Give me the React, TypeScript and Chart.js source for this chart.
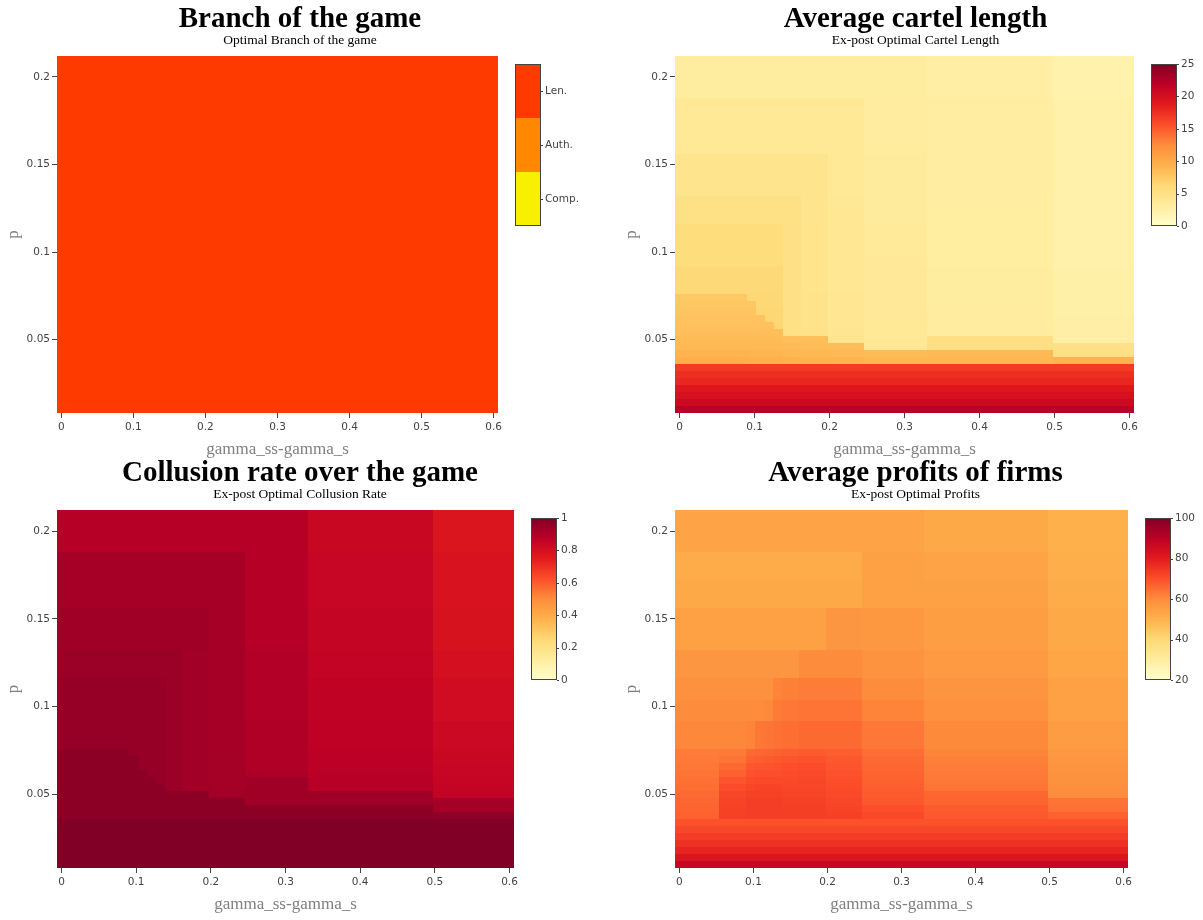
import React, { useEffect, useRef } from "react";
import { Chart, registerables } from "chart.js";

Chart.register(...registerables);

const SERIF = '"Liberation Serif", "Times New Roman", Times, serif';
const SANS = '"DejaVu Sans", Verdana, sans-serif';
const TICK_COLOR = "#444444";
const AXIS_TITLE_COLOR = "#808080";

// ---------------- data ----------------
const xValues = [
  0, 0.012, 0.024, 0.036, 0.048, 0.06, 0.072, 0.084, 0.096, 0.108, 0.12, 0.132, 0.144, 0.156, 0.168,
  0.18, 0.192, 0.204, 0.216, 0.228, 0.24, 0.252, 0.264, 0.276, 0.288, 0.3, 0.312, 0.324, 0.336, 0.348,
  0.36, 0.372, 0.384, 0.396, 0.408, 0.42, 0.432, 0.444, 0.456, 0.468, 0.48, 0.492, 0.504, 0.516, 0.528,
  0.54, 0.552, 0.564, 0.576, 0.588, 0.6,
];
const yValues = [
  0.01, 0.014, 0.018, 0.022, 0.026, 0.03, 0.034, 0.038, 0.042, 0.046, 0.05, 0.054, 0.058, 0.062, 0.066,
  0.07, 0.074, 0.078, 0.082, 0.086, 0.09, 0.094, 0.098, 0.102, 0.106, 0.11, 0.114, 0.118, 0.122, 0.126,
  0.13, 0.134, 0.138, 0.142, 0.146, 0.15, 0.154, 0.158, 0.162, 0.166, 0.17, 0.174, 0.178, 0.182, 0.186,
  0.19, 0.194, 0.198, 0.202, 0.206, 0.21,
];
// number of x columns in each column group (gamma bands)
const colGroupWidths = [5, 3, 1, 1, 1, 1, 2, 3, 4, 7, 14, 9];
const xTicks = [0, 0.1, 0.2, 0.3, 0.4, 0.5, 0.6];
const yTicks = [0.05, 0.1, 0.15, 0.2];

// rows listed from top (p = 0.21) to bottom (p = 0.01): [row count, value per column group | single value]
type RowGroup = [number, number | number[]];

const branchRows: RowGroup[] = [[51, 2]];
const branchLevels = ["Comp.", "Auth.", "Len."];
const branchColors = ["rgb(248,240,0)", "rgb(255,136,0)", "rgb(254,58,0)"];

const cartelRows: RowGroup[] = [
  [6, [3.2, 3.2, 3.2, 3.2, 3.2, 3.2, 3.2, 3.2, 3.2, 3.2, 2.9, 2.3]],
  [8, [3.9, 3.9, 3.9, 3.9, 3.9, 3.9, 3.9, 3.9, 3.9, 3.3, 3.0, 2.4]],
  [6, [4.5, 4.5, 4.5, 4.5, 4.5, 4.5, 4.5, 4.5, 3.9, 3.4, 3.0, 2.5]],
  [4, [5.1, 5.1, 5.1, 5.1, 5.1, 5.1, 5.1, 4.5, 4.0, 3.5, 3.1, 2.5]],
  [6, [5.7, 5.7, 5.7, 5.7, 5.7, 5.7, 5.0, 4.6, 4.1, 3.6, 3.1, 2.5]],
  [4, [6.2, 6.2, 6.2, 6.2, 6.2, 6.2, 5.0, 4.6, 4.1, 3.7, 3.2, 2.6]],
  [1, [7.6, 7.6, 6.3, 6.3, 6.3, 6.3, 5.0, 4.7, 4.2, 3.7, 3.2, 2.6]],
  [1, [7.7, 7.7, 7.7, 6.3, 6.3, 6.3, 5.0, 4.7, 4.2, 3.7, 3.2, 2.6]],
  [1, [7.8, 7.8, 7.8, 6.4, 6.4, 6.4, 5.0, 4.7, 4.2, 3.7, 3.2, 2.6]],
  [1, [8.0, 8.0, 8.0, 8.0, 6.4, 6.4, 5.0, 4.7, 4.2, 3.7, 3.3, 2.7]],
  [1, [8.2, 8.2, 8.2, 8.2, 8.2, 6.4, 5.0, 4.7, 4.2, 3.7, 3.3, 2.7]],
  [1, [8.4, 8.4, 8.4, 8.4, 8.4, 8.4, 5.1, 4.8, 4.3, 3.8, 3.3, 2.7]],
  [1, [8.6, 8.6, 8.6, 8.6, 8.6, 8.6, 8.4, 8.3, 4.4, 3.8, 5.3, 2.8]],
  [1, [8.8, 8.8, 8.8, 8.8, 8.8, 8.8, 8.7, 8.6, 8.5, 3.9, 5.3, 5.0]],
  [1, [9.2, 9.2, 9.1, 9.1, 9.1, 9.1, 9.0, 8.9, 8.8, 8.6, 8.8, 5.0]],
  [1, [9.6, 9.6, 9.5, 9.5, 9.5, 9.5, 9.4, 9.3, 9.2, 9.0, 9.0, 9.2]],
  [1, 16.8],
  [1, 17.5],
  [1, 18.0],
  [1, 19.1],
  [1, 19.8],
  [1, 20.7],
  [1, 22.1],
];
const cartelTicks = [0, 5, 10, 15, 20, 25];

const collusionRows: RowGroup[] = [
  [6, [0.89, 0.89, 0.89, 0.89, 0.89, 0.89, 0.89, 0.89, 0.89, 0.89, 0.84, 0.775]],
  [8, [0.92, 0.92, 0.92, 0.92, 0.92, 0.92, 0.92, 0.92, 0.92, 0.89, 0.845, 0.785]],
  [6, [0.935, 0.935, 0.935, 0.935, 0.935, 0.935, 0.935, 0.935, 0.92, 0.89, 0.85, 0.79]],
  [4, [0.945, 0.945, 0.945, 0.945, 0.945, 0.945, 0.945, 0.93, 0.92, 0.895, 0.855, 0.8]],
  [6, [0.955, 0.955, 0.955, 0.955, 0.955, 0.955, 0.945, 0.93, 0.92, 0.895, 0.865, 0.815]],
  [4, [0.955, 0.955, 0.955, 0.955, 0.955, 0.955, 0.945, 0.93, 0.92, 0.9, 0.87, 0.83]],
  [1, [0.975, 0.975, 0.955, 0.955, 0.955, 0.955, 0.945, 0.93, 0.925, 0.9, 0.875, 0.84]],
  [1, [0.975, 0.975, 0.975, 0.955, 0.955, 0.955, 0.945, 0.93, 0.925, 0.9, 0.875, 0.84]],
  [1, [0.975, 0.975, 0.975, 0.955, 0.955, 0.955, 0.945, 0.93, 0.925, 0.9, 0.875, 0.845]],
  [1, [0.975, 0.975, 0.975, 0.975, 0.955, 0.955, 0.945, 0.93, 0.925, 0.905, 0.88, 0.845]],
  [1, [0.975, 0.975, 0.975, 0.975, 0.975, 0.955, 0.945, 0.93, 0.925, 0.935, 0.885, 0.85]],
  [1, [0.975, 0.975, 0.975, 0.975, 0.975, 0.975, 0.945, 0.93, 0.925, 0.935, 0.885, 0.855]],
  [1, [0.975, 0.975, 0.975, 0.975, 0.975, 0.975, 0.975, 0.975, 0.93, 0.935, 0.935, 0.86]],
  [1, [0.975, 0.975, 0.975, 0.975, 0.975, 0.975, 0.975, 0.975, 0.975, 0.935, 0.935, 0.925]],
  [1, [0.975, 0.975, 0.975, 0.975, 0.975, 0.975, 0.975, 0.975, 0.975, 0.975, 0.975, 0.925]],
  [1, [0.975, 0.975, 0.975, 0.975, 0.975, 0.975, 0.975, 0.975, 0.975, 0.975, 0.975, 0.97]],
  [7, 1.0],
];
const collusionTicks = [0, 0.2, 0.4, 0.6, 0.8, 1];

const profitRows: RowGroup[] = [
  [6, [54, 54, 54, 54, 54, 54, 54, 54, 54, 54, 52.5, 50.5]],
  [4, [52, 52, 52, 52, 52, 52, 52, 52, 52, 54.5, 54, 51]],
  [4, [52.5, 52.5, 52.5, 52.5, 52.5, 52.5, 52.5, 52.5, 52.5, 55, 54.5, 51.5]],
  [6, [55, 55, 55, 55, 55, 55, 55, 55, 57.5, 57, 55.5, 52.5]],
  [4, [57.5, 57.5, 57.5, 57.5, 57.5, 57.5, 57.5, 60, 60, 58.5, 56.5, 53.5]],
  [3, [59, 59, 59, 59, 59, 61.5, 62, 62.5, 62.5, 60, 58, 54.5]],
  [3, [60, 60, 60, 60, 60.5, 63, 63.5, 64, 64, 61.5, 59, 55]],
  [4, [61, 61, 61.5, 63.5, 64, 64.5, 65, 65.5, 65.5, 63.5, 60.5, 56]],
  [1, [62.5, 63, 65.5, 66, 66.5, 67, 67.5, 68, 67.5, 65, 61.5, 57]],
  [1, [63, 64, 67, 67.5, 68, 68.5, 69, 69.5, 68.5, 65.5, 62, 57.5]],
  [1, [63.5, 65.5, 68.5, 69, 69, 69.5, 70, 70.5, 69, 66, 62.5, 58]],
  [1, [64, 67, 69.5, 70, 70, 70, 70.5, 71, 69.5, 66.5, 63, 58.5]],
  [1, [64.5, 69, 70.5, 71, 71, 71, 71, 71.5, 70, 67, 63.5, 59]],
  [1, [65, 70.5, 71.5, 72, 72, 72, 71.5, 71.5, 70.5, 67.5, 64, 59.5]],
  [1, [65.5, 71.5, 72.5, 72.5, 72.5, 72.5, 72, 72, 71, 68, 66, 60]],
  [1, [66, 72, 73, 73, 73, 73, 72.5, 72.5, 71.5, 68.5, 66.5, 64]],
  [1, [66.5, 72.5, 73, 73, 73, 73, 73, 73, 72, 70, 68, 64.5]],
  [1, [67, 72.5, 73, 73, 73, 73, 73, 73, 72.5, 71, 68.5, 67]],
  [1, 69.5],
  [1, 71.5],
  [1, 73.5],
  [1, 75.5],
  [1, 78],
  [1, 82],
  [1, 87.5],
];
const profitTicks = [20, 40, 60, 80, 100];

// YlOrRd colour scale (low = light yellow, high = dark red)
const ylorrd: [number, number[]][] = [
  [0, [255, 255, 204]],
  [0.125, [255, 237, 160]],
  [0.25, [254, 217, 118]],
  [0.375, [254, 178, 76]],
  [0.5, [253, 141, 60]],
  [0.625, [252, 78, 42]],
  [0.75, [227, 26, 28]],
  [0.875, [189, 0, 38]],
  [1, [128, 0, 38]],
];

// ---------------- helpers ----------------
function scaleColor(v: number, min: number, max: number): string {
  let t = (v - min) / (max - min);
  t = Math.max(0, Math.min(1, t));
  for (let k = 1; k < ylorrd.length; k++) {
    const [t1, c1] = ylorrd[k];
    const [t0, c0] = ylorrd[k - 1];
    if (t <= t1) {
      const f = (t - t0) / (t1 - t0);
      const c = c0.map((a, i) => Math.round(a + (c1[i] - a) * f));
      return `rgb(${c[0]},${c[1]},${c[2]})`;
    }
  }
  const last = ylorrd[ylorrd.length - 1][1];
  return `rgb(${last[0]},${last[1]},${last[2]})`;
}

function edgesOf(vals: number[]): number[] {
  const n = vals.length;
  const e = [vals[0] - (vals[1] - vals[0]) / 2];
  for (let i = 1; i < n; i++) e.push((vals[i - 1] + vals[i]) / 2);
  e.push(vals[n - 1] + (vals[n - 1] - vals[n - 2]) / 2);
  return e;
}
const xEdges = edgesOf(xValues);
const yEdges = edgesOf(yValues);

interface Cell { x: number; y: number; v: number; x0: number; x1: number; y0: number; y1: number; }

function buildCells(groups: RowGroup[]): Cell[] {
  const rowsTopDown: number[][] = [];
  for (const [count, vals] of groups) {
    const row: number[] = [];
    colGroupWidths.forEach((w, g) => {
      const v = Array.isArray(vals) ? vals[g] : vals;
      for (let k = 0; k < w; k++) row.push(v);
    });
    for (let r = 0; r < count; r++) rowsTopDown.push(row);
  }
  const cells: Cell[] = [];
  const n = yValues.length;
  for (let j = 0; j < n; j++) {
    const row = rowsTopDown[n - 1 - j];
    for (let i = 0; i < xValues.length; i++) {
      cells.push({
        x: xValues[i], y: yValues[j], v: row[i],
        x0: xEdges[i], x1: xEdges[i + 1], y0: yEdges[j], y1: yEdges[j + 1],
      });
    }
  }
  return cells;
}

type ColorbarSpec =
  | { kind: "discrete"; labels: string[]; colors: string[] }
  | { kind: "continuous"; min: number; max: number; ticks: number[] };

interface PanelSpec {
  key: string;
  title: string;
  subtitle: string;
  rows: RowGroup[];
  colorOf: (v: number) => string;
  colorbar: ColorbarSpec;
  left: number; top: number; w: number; h: number; yW: number; cbW: number;
}

function drawColorbar(chart: any, cb: ColorbarSpec) {
  const { ctx, chartArea } = chart;
  const x0 = Math.round(chartArea.right + 17);
  const w = 26;
  const yTop = Math.round(chartArea.top + 8);
  const h = 162;
  const yBot = yTop + h;
  ctx.save();
  let items: { label: string; y: number }[] = [];
  if (cb.kind === "discrete") {
    const n = cb.colors.length;
    const bh = h / n;
    cb.colors.forEach((col, k) => {
      ctx.fillStyle = col;
      ctx.fillRect(x0, yBot - (k + 1) * bh, w, bh);
    });
    items = cb.labels.map((l, k) => ({ label: l, y: yBot - (k + 0.5) * bh }));
  } else {
    const g = ctx.createLinearGradient(0, yBot, 0, yTop);
    ylorrd.forEach(([t, c]) => g.addColorStop(t, `rgb(${c[0]},${c[1]},${c[2]})`));
    ctx.fillStyle = g;
    ctx.fillRect(x0, yTop, w, h);
    items = cb.ticks.map((v) => ({ label: String(v), y: yBot - ((v - cb.min) / (cb.max - cb.min)) * h }));
  }
  ctx.strokeStyle = "#444444";
  ctx.lineWidth = 1;
  ctx.strokeRect(x0 + 0.5, yTop + 0.5, w - 1, h - 1);
  ctx.fillStyle = TICK_COLOR;
  ctx.font = `10.5px ${SANS}`;
  ctx.textBaseline = "middle";
  ctx.textAlign = "left";
  for (const it of items) {
    const yy = Math.round(it.y) + 0.5;
    ctx.beginPath();
    ctx.moveTo(x0 + w, yy);
    ctx.lineTo(x0 + w + 2, yy);
    ctx.stroke();
    ctx.fillText(it.label, x0 + w + 4, it.y);
  }
  ctx.restore();
}

function makePlugin(spec: PanelSpec) {
  return {
    id: "heatmap_" + spec.key,
    beforeDatasetsDraw(chart: any) {
      const { ctx } = chart;
      const xs = chart.scales.x;
      const ys = chart.scales.y;
      const data = chart.data.datasets[0].data as Cell[];
      ctx.save();
      for (const c of data) {
        const px0 = Math.round(xs.getPixelForValue(c.x0));
        const px1 = Math.round(xs.getPixelForValue(c.x1));
        const py0 = Math.round(ys.getPixelForValue(c.y0));
        const py1 = Math.round(ys.getPixelForValue(c.y1));
        ctx.fillStyle = spec.colorOf(c.v);
        ctx.fillRect(px0, py1, px1 - px0, py0 - py1);
      }
      ctx.restore();
    },
    afterDraw(chart: any) {
      drawColorbar(chart, spec.colorbar);
    },
  };
}

function makeConfig(spec: PanelSpec): any {
  const tickFont = { family: SANS, size: 10.5 };
  return {
    type: "scatter",
    data: {
      datasets: [
        { data: buildCells(spec.rows), pointRadius: 0, pointHoverRadius: 0, pointHitRadius: 0, showLine: false },
      ],
    },
    options: {
      responsive: false,
      maintainAspectRatio: false,
      animation: false,
      devicePixelRatio: 1,
      events: [],
      layout: { padding: 0 },
      plugins: {
        legend: { display: false },
        tooltip: { enabled: false },
        title: {
          display: true,
          text: spec.title,
          color: "#000000",
          font: { family: SERIF, size: 29, weight: "bold", lineHeight: 0.9 },
          padding: { top: 6, bottom: 0 },
        },
        subtitle: {
          display: true,
          text: spec.subtitle,
          color: "#000000",
          font: { family: SERIF, size: 13.5, lineHeight: 1.2 },
          padding: { top: 0, bottom: 7.7 },
        },
      },
      scales: {
        x: {
          type: "linear",
          position: "bottom",
          min: xEdges[0],
          max: xEdges[xEdges.length - 1],
          afterBuildTicks: (s: any) => {
            s.ticks = xTicks.map((v) => ({ value: v }));
          },
          afterFit: (s: any) => {
            s.height = 47;
          },
          ticks: {
            color: TICK_COLOR,
            font: tickFont,
            padding: 3,
            maxRotation: 0,
            autoSkip: false,
            callback: (v: number) => String(v),
          },
          grid: { display: true, drawOnChartArea: false, drawTicks: true, tickLength: 5, tickColor: "#444444" },
          border: { display: false },
          title: {
            display: true,
            text: "gamma_ss-gamma_s",
            color: AXIS_TITLE_COLOR,
            font: { family: SERIF, size: 17, lineHeight: 1.2 },
            padding: 0,
          },
        },
        y: {
          type: "linear",
          position: "left",
          min: yEdges[0],
          max: yEdges[yEdges.length - 1],
          afterBuildTicks: (s: any) => {
            s.ticks = yTicks.map((v) => ({ value: v }));
          },
          afterFit: (s: any) => {
            s.width = spec.yW;
          },
          ticks: {
            color: TICK_COLOR,
            font: tickFont,
            padding: 2,
            autoSkip: false,
            callback: (v: number) => String(v),
          },
          grid: { display: true, drawOnChartArea: false, drawTicks: true, tickLength: 5, tickColor: "#444444" },
          border: { display: false },
          title: {
            display: true,
            text: "p",
            color: AXIS_TITLE_COLOR,
            font: { family: SERIF, size: 17, lineHeight: 1.2 },
            padding: { top: 3, bottom: 0 },
          },
        },
        cb: {
          type: "linear",
          axis: "y",
          position: "right",
          display: true,
          ticks: { display: false },
          grid: { display: false },
          border: { display: false },
          afterFit: (s: any) => {
            s.width = spec.cbW;
          },
        },
      },
    },
    plugins: [makePlugin(spec)],
  };
}

const panels: PanelSpec[] = [
  {
    key: "branch",
    title: "Branch of the game",
    subtitle: "Optimal Branch of the game",
    rows: branchRows,
    colorOf: (v) => branchColors[Math.round(v)],
    colorbar: { kind: "discrete", labels: branchLevels, colors: branchColors },
    left: 0, top: 0, w: 600, h: 460, yW: 57, cbW: 102,
  },
  {
    key: "cartel",
    title: "Average cartel length",
    subtitle: "Ex-post Optimal Cartel Length",
    rows: cartelRows,
    colorOf: (v) => scaleColor(v, 0, 25),
    colorbar: { kind: "continuous", min: 0, max: 25, ticks: cartelTicks },
    left: 618, top: 0, w: 595, h: 460, yW: 57, cbW: 79,
  },
  {
    key: "collusion",
    title: "Collusion rate over the game",
    subtitle: "Ex-post Optimal Collusion Rate",
    rows: collusionRows,
    colorOf: (v) => scaleColor(v, 0, 1),
    colorbar: { kind: "continuous", min: 0, max: 1, ticks: collusionTicks },
    left: 0, top: 454, w: 600, h: 461, yW: 57, cbW: 86,
  },
  {
    key: "profit",
    title: "Average profits of firms",
    subtitle: "Ex-post Optimal Profits",
    rows: profitRows,
    colorOf: (v) => scaleColor(v, 20, 100),
    colorbar: { kind: "continuous", min: 20, max: 100, ticks: profitTicks },
    left: 618, top: 454, w: 595, h: 461, yW: 57, cbW: 85,
  },
];

function Panel({ spec }: { spec: PanelSpec }) {
  const ref = useRef<HTMLCanvasElement | null>(null);
  useEffect(() => {
    if (!ref.current) return;
    const chart = new Chart(ref.current, makeConfig(spec));
    return () => chart.destroy();
  }, [spec]);
  return (
    <canvas
      ref={ref}
      width={spec.w}
      height={spec.h}
      style={{ position: "absolute", left: spec.left, top: spec.top, width: spec.w, height: spec.h }}
    />
  );
}

export default function App() {
  return (
    <div
      style={{
        position: "absolute",
        left: 0,
        top: 0,
        width: 1203,
        height: 920,
        overflow: "hidden",
        background: "#ffffff",
      }}
    >
      {panels.map((p) => (
        <Panel key={p.key} spec={p} />
      ))}
    </div>
  );
}
